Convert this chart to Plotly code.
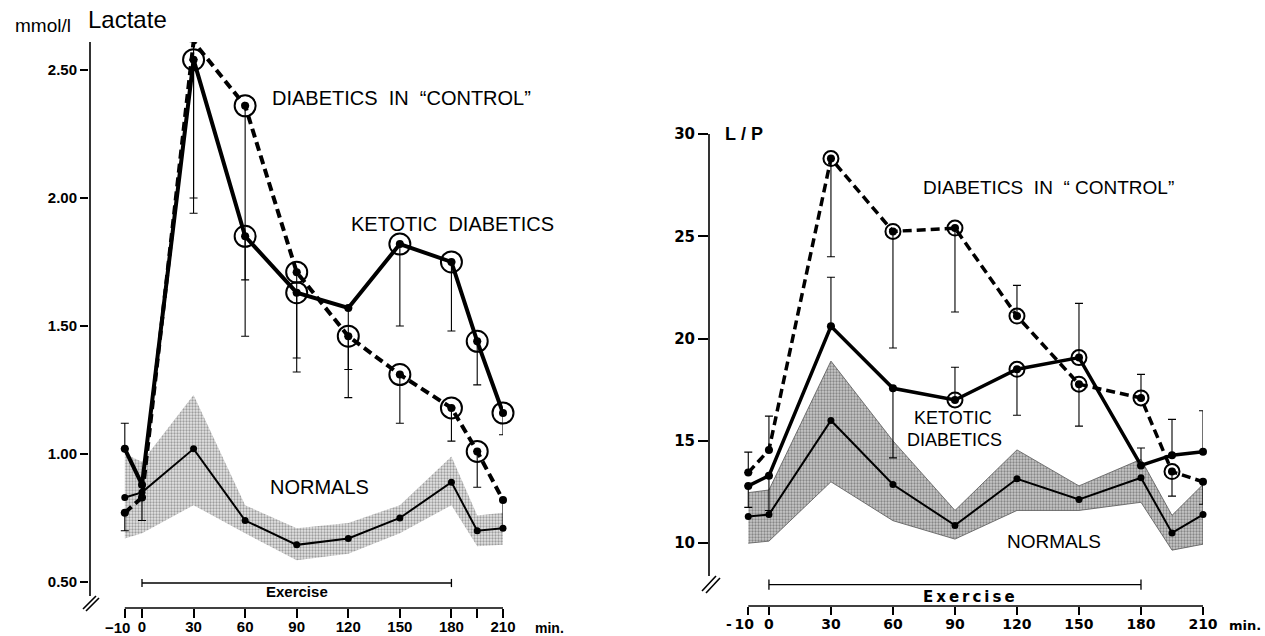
import plotly.graph_objects as go

# ---------------- data ----------------
times = [-10, 0, 30, 60, 90, 120, 150, 180, 195, 210]

# Lactate (mmol/l)
lac_ketotic = [1.02, 0.88, 2.54, 1.85, 1.63, 1.57, 1.82, 1.75, 1.44, 1.16]
lac_ketotic_up = [0.10, 0, 0, 0, 0, 0, 0, 0, 0, 0]
lac_ketotic_down = [0, 0, 0.54, 0.39, 0.255, 0.24, 0.32, 0.27, 0.17, 0.085]
lac_ketotic_circled = [30, 60, 90, 150, 180, 195, 210]

lac_control = [0.77, 0.83, 2.61, 2.36, 1.71, 1.46, 1.31, 1.18, 1.01, 0.82]
lac_control_up = [0, 0, 0, 0, 0, 0, 0, 0, 0, 0]
lac_control_down = [0.07, 0.09, 0.67, 0.68, 0.39, 0.24, 0.19, 0.13, 0.14, 0.11]
lac_control_circled = [30, 60, 90, 120, 150, 180, 195]

lac_normal = [0.83, 0.85, 1.02, 0.74, 0.645, 0.67, 0.75, 0.89, 0.70, 0.71]
lac_normal_hi = [1.00, 0.97, 1.23, 0.80, 0.71, 0.73, 0.80, 0.99, 0.76, 0.77]
lac_normal_lo = [0.67, 0.69, 0.80, 0.69, 0.585, 0.61, 0.69, 0.80, 0.64, 0.645]

lac_yticks = [0.5, 1.0, 1.5, 2.0, 2.5]
lac_yticklabels = ["0.50", "1.00", "1.50", "2.00", "2.50"]
lac_xticks = [-10, 0, 30, 60, 90, 120, 150, 180, 195, 210]
lac_xticklabels = ["", "0", "30", "60", "90", "120", "150", "180", "", "210"]
lac_first_label = "\u221210"

# L/P ratio
lp_ketotic = [12.8, 13.3, 20.6, 17.57, 17.0, 18.5, 19.07, 13.8, 14.3, 14.47]
lp_ketotic_up = [0, 0, 2.4, 0, 1.6, 0, 2.65, 0.85, 1.75, 2.0]
lp_ketotic_down = [1.05, 1.7, 0, 3.4, 0, 2.25, 0, 0, 0, 0]
lp_ketotic_circled = [90, 120, 150]

lp_control = [13.45, 14.56, 28.8, 25.24, 25.4, 21.1, 17.77, 17.1, 13.5, 13.0]
lp_control_up = [1.0, 1.65, 0, 0, 0, 1.5, 0, 1.15, 0, 0]
lp_control_down = [0, 0, 4.8, 5.7, 4.1, 0, 2.05, 0, 1.2, 1.1]
lp_control_circled = [30, 60, 90, 120, 150, 180, 195]

lp_normal = [11.3, 11.4, 16.0, 12.87, 10.87, 13.15, 12.14, 13.2, 10.5, 11.4]
lp_normal_hi = [12.47, 12.6, 18.9, 15.0, 11.6, 14.56, 12.8, 14.1, 11.36, 12.87]
lp_normal_lo = [10.0, 10.1, 13.0, 11.1, 10.2, 11.6, 11.6, 12.0, 9.66, 9.95]

lp_yticks = [10, 15, 20, 25, 30]
lp_yticklabels = ["10", "15", "20", "25", "30"]
lp_xticks = [-10, 0, 30, 60, 90, 120, 150, 180, 210]
lp_xticklabels = ["", "0", "30", "60", "90", "120", "150", "180", "210"]
lp_first_label = "-\u200910"

exercise_span = [0, 180]

# ---------------- figure ----------------
W, H = 1265, 636
fig = go.Figure()


def px_x(p):
    return p / W


def px_y(p):
    return 1 - p / H


def add_panel(xa, ya, normal, hi, lo, ketotic, k_up, k_dn, k_circ,
              control, c_up, c_dn, c_circ, circ_size, band_bg, band_fg,
              band_line, lw, normal_lw, dot):
    # normals band
    fig.add_trace(go.Scatter(
        x=times + times[::-1], y=hi + lo[::-1], xaxis=xa, yaxis=ya,
        fill="toself", mode="lines",
        line=dict(color=band_line, width=0.8),
        fillcolor=band_bg,
        fillpattern=dict(shape=".", bgcolor=band_bg, fgcolor=band_fg,
                         size=3, solidity=0.45),
        hoverinfo="skip"))
    # normals line
    fig.add_trace(go.Scatter(
        x=times, y=normal, xaxis=xa, yaxis=ya, mode="lines+markers",
        line=dict(color="black", width=normal_lw),
        marker=dict(color="black", size=dot - 1), cliponaxis=False))
    # ketotic diabetics (solid)
    fig.add_trace(go.Scatter(
        x=times, y=ketotic, xaxis=xa, yaxis=ya, mode="lines+markers",
        line=dict(color="black", width=lw),
        marker=dict(color="black", size=dot),
        error_y=dict(type="data", symmetric=False, array=k_up,
                     arrayminus=k_dn, color="black", thickness=1.1, width=4),
        cliponaxis=False))
    # diabetics in control (dashed)
    fig.add_trace(go.Scatter(
        x=times, y=control, xaxis=xa, yaxis=ya, mode="lines+markers",
        line=dict(color="black", width=lw, dash="9px,5px"),
        marker=dict(color="black", size=dot),
        error_y=dict(type="data", symmetric=False, array=c_up,
                     arrayminus=c_dn, color="black", thickness=1.1, width=4),
        cliponaxis=False))
    # circled points
    for series, circ in ((ketotic, k_circ), (control, c_circ)):
        cx = [t for t in times if t in circ]
        cy = [series[times.index(t)] for t in cx]
        fig.add_trace(go.Scatter(
            x=cx, y=cy, xaxis=xa, yaxis=ya, mode="markers",
            marker=dict(symbol="circle-open", size=circ_size, color="black",
                        line=dict(width=2, color="black")),
            cliponaxis=False))


add_panel("x", "y", lac_normal, lac_normal_hi, lac_normal_lo,
          lac_ketotic, lac_ketotic_up, lac_ketotic_down, lac_ketotic_circled,
          lac_control, lac_control_up, lac_control_down, lac_control_circled,
          circ_size=21, band_bg="#e4e4e4", band_fg="#555555",
          band_line="rgba(0,0,0,0)", lw=4, normal_lw=2, dot=8)
add_panel("x2", "y2", lp_normal, lp_normal_hi, lp_normal_lo,
          lp_ketotic, lp_ketotic_up, lp_ketotic_down, lp_ketotic_circled,
          lp_control, lp_control_up, lp_control_down, lp_control_circled,
          circ_size=15, band_bg="#c8c8c8", band_fg="#444444",
          band_line="#555555", lw=3.5, normal_lw=2, dot=8)

# ---------------- axes ----------------
left_font = dict(family="Liberation Sans", color="black", weight="bold")
right_font = dict(family="DejaVu Sans", color="black", weight="bold")

fig.update_layout(
    width=W, height=H,
    margin=dict(l=0, r=0, t=0, b=0, pad=0, autoexpand=False),
    paper_bgcolor="white", plot_bgcolor="white", showlegend=False,
    xaxis=dict(domain=[px_x(89), px_x(503)], range=[-30.83, 210],
               anchor="y", showgrid=False, zeroline=False, showline=False,
               ticks="outside", ticklen=9, tickwidth=1.6, tickcolor="black",
               tickvals=lac_xticks, ticktext=lac_xticklabels, tickangle=0,
               automargin=False, ticklabelstandoff=-4,
               tickfont=dict(size=15, **left_font)),
    yaxis=dict(domain=[px_y(608), px_y(42)], range=[0.3984, 2.609],
               anchor="x", showgrid=False, zeroline=False, showline=False,
               ticks="outside", ticklen=8, tickwidth=1.6, tickcolor="black",
               tickvals=lac_yticks, ticktext=lac_yticklabels, automargin=False,
               tickfont=dict(size=15, **left_font)),
    xaxis2=dict(domain=[px_x(709), px_x(1203)], range=[-29.0, 210],
                anchor="y2", showgrid=False, zeroline=False, showline=False,
                ticks="outside", ticklen=8, tickwidth=1.6, tickcolor="black",
                tickvals=lp_xticks, ticktext=lp_xticklabels, tickangle=0,
                automargin=False, ticklabelstandoff=-3,
                tickfont=dict(size=14, **right_font)),
    yaxis2=dict(domain=[px_y(606), px_y(134)], range=[6.93, 30],
                anchor="x2", showgrid=False, zeroline=False, showline=False,
                ticks="outside", ticklen=10, tickwidth=1.6, tickcolor="black",
                tickvals=lp_yticks, ticktext=lp_yticklabels, automargin=False,
                tickfont=dict(size=15, **right_font)),
)

# ---------------- shapes (axis lines, breaks, exercise bars) ----------------
shapes = []
LK = dict(color="black", width=1.6)
# left y axis + break
shapes.append(dict(type="line", xref="paper", yref="paper",
                   x0=px_x(90), x1=px_x(90), y0=px_y(42), y1=px_y(596), line=LK))
shapes.append(dict(type="line", xref="paper", yref="paper",
                   x0=px_x(83), x1=px_x(96), y0=px_y(609), y1=px_y(596), line=LK))
shapes.append(dict(type="line", xref="paper", yref="paper",
                   x0=px_x(86), x1=px_x(99), y0=px_y(611), y1=px_y(598), line=LK))
# left x axis line
shapes.append(dict(type="line", xref="x", yref="y domain",
                   x0=times[0], x1=times[-1], y0=0, y1=0, line=LK))
# right y axis + break
shapes.append(dict(type="line", xref="paper", yref="paper",
                   x0=px_x(709), x1=px_x(709), y0=px_y(134), y1=px_y(576), line=LK))
shapes.append(dict(type="line", xref="paper", yref="paper",
                   x0=px_x(702), x1=px_x(716), y0=px_y(591), y1=px_y(576), line=LK))
shapes.append(dict(type="line", xref="paper", yref="paper",
                   x0=px_x(706), x1=px_x(720), y0=px_y(593), y1=px_y(578), line=LK))
# right x axis line
shapes.append(dict(type="line", xref="x2", yref="y2 domain",
                   x0=times[0], x1=times[-1], y0=0, y1=0, line=LK))

# exercise bars
EX = dict(color="black", width=1.3)
for xr, yr, yb, cap in (("x", "y", 0.496, 0.016), ("x2", "y2", 7.97, 0.25)):
    shapes.append(dict(type="line", xref=xr, yref=yr, x0=exercise_span[0],
                       x1=exercise_span[1], y0=yb, y1=yb, line=EX))
    for xe in exercise_span:
        shapes.append(dict(type="line", xref=xr, yref=yr, x0=xe, x1=xe,
                           y0=yb - cap, y1=yb + cap, line=EX))
fig.update_layout(shapes=shapes)

# ---------------- annotations ----------------
NB = "\u00a0"
lab = dict(family="Liberation Sans", color="black")
anns = [
    # left panel
    dict(x=px_x(43), y=px_y(26), xref="paper", yref="paper", text="mmol/l",
         font=dict(size=19, **lab)),
    dict(x=px_x(86), y=px_y(20), xref="paper", yref="paper", text="Lactate",
         xanchor="left", font=dict(size=24, **lab)),
    dict(x=150.7, y=2.39, xref="x", yref="y",
         text="DIABETICS" + NB * 2 + "IN" + NB * 2 + "\u201cCONTROL\u201d",
         font=dict(size=20, **lab)),
    dict(x=180.6, y=1.90, xref="x", yref="y",
         text="KETOTIC" + NB * 2 + "DIABETICS", font=dict(size=20, **lab)),
    dict(x=103.5, y=0.871, xref="x", yref="y", text="NORMALS",
         font=dict(size=20, **lab)),
    dict(x=90, y=0.462, xref="x", yref="y", text="<b>Exercise</b>",
         font=dict(size=15, **lab)),
    dict(x=times[0], xref="x", y=px_y(627), yref="paper", xshift=-7,
         text="<b>" + lac_first_label + "</b>", font=dict(size=15, **lab)),
    dict(x=px_x(533), y=px_y(628), xref="paper", yref="paper", xanchor="left",
         text="<b>min.</b>", font=dict(size=14, **lab)),
    # right panel
    dict(x=px_x(744), y=px_y(134), xref="paper", yref="paper",
         text="<b>L" + NB + "/" + NB + "P</b>", font=dict(size=18, **lab)),
    dict(x=px_x(1048), y=px_y(187), xref="paper", yref="paper",
         text="DIABETICS" + NB * 2 + "IN" + NB * 2 + "\u201c" + NB + "CONTROL\u201d",
         font=dict(size=19, **lab)),
    dict(x=px_x(953), y=px_y(418), xref="paper", yref="paper",
         text="KETOTIC", font=dict(size=18, **lab)),
    dict(x=px_x(954), y=px_y(440), xref="paper", yref="paper",
         text="DIABETICS", font=dict(size=18, **lab)),
    dict(x=px_x(1054), y=px_y(541), xref="paper", yref="paper",
         text="NORMALS", font=dict(size=19, **lab)),
    dict(x=px_x(969), y=px_y(597), xref="paper", yref="paper",
         text="<b>" + "\u2009".join("Exercise") + "</b>",
         font=dict(size=15, family="DejaVu Sans", color="black")),
    dict(x=times[0], xref="x2", y=px_y(624), yref="paper", xshift=-8,
         text="<b>" + lp_first_label + "</b>",
         font=dict(size=14, family="DejaVu Sans", color="black")),
    dict(x=px_x(1227), y=px_y(625), xref="paper", yref="paper", xanchor="left",
         text="<b>min.</b>", font=dict(size=13, family="DejaVu Sans", color="black")),
]
for a in anns:
    a.setdefault("showarrow", False)
    a.setdefault("xanchor", "center")
    a.setdefault("yanchor", "middle")
fig.update_layout(annotations=anns)

fig.write_html(
    "out.html",
    config={"displayModeBar": False},
    post_script="document.body.style.margin='0';document.body.style.padding='0';",
)
